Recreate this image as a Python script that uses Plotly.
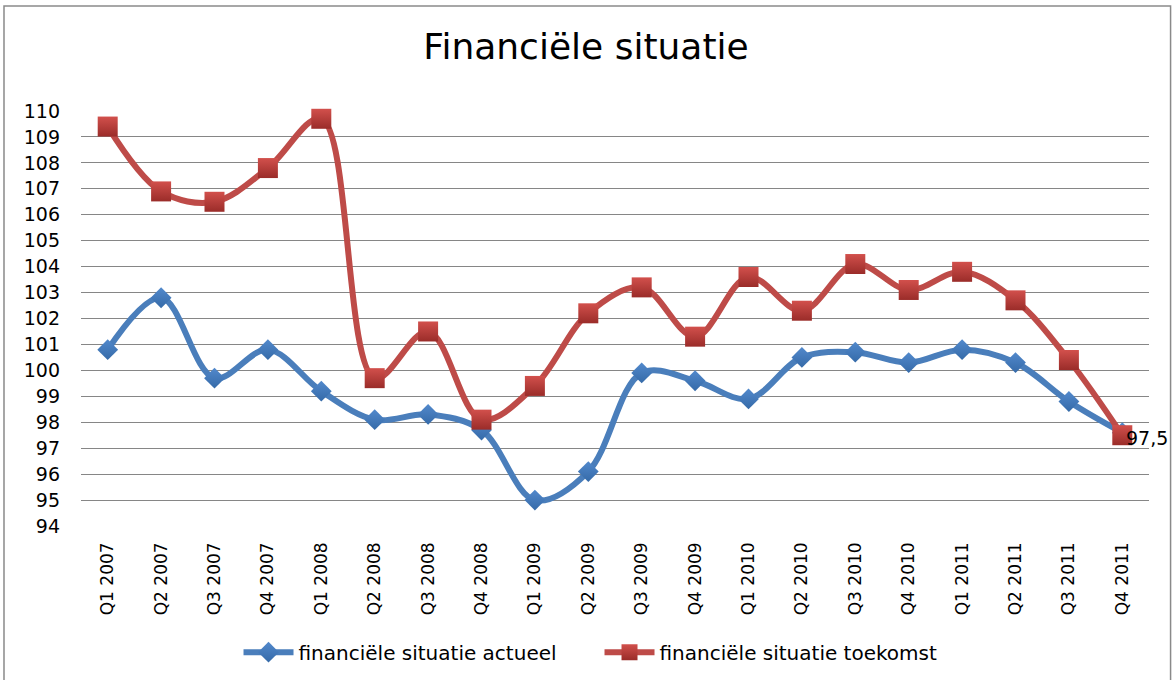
import plotly.graph_objects as go

categories = ["Q1 2007", "Q2 2007", "Q3 2007", "Q4 2007",
              "Q1 2008", "Q2 2008", "Q3 2008", "Q4 2008",
              "Q1 2009", "Q2 2009", "Q3 2009", "Q4 2009",
              "Q1 2010", "Q2 2010", "Q3 2010", "Q4 2010",
              "Q1 2011", "Q2 2011", "Q3 2011", "Q4 2011"]
actueel = [100.8, 102.8, 99.7, 100.8, 99.2, 98.1, 98.3, 97.7, 95.0, 96.1,
           99.9, 99.6, 98.9, 100.5, 100.7, 100.3, 100.8, 100.3, 98.8, 97.6]
toekomst = [109.4, 106.9, 106.5, 107.8, 109.7, 99.7, 101.5, 98.1, 99.4, 102.2,
            103.2, 101.3, 103.6, 102.3, 104.1, 103.1, 103.8, 102.7, 100.4, 97.5]
y_ticks = list(range(94, 111))
label_text = "97,5"

FONT = "DejaVu Sans"

fig = go.Figure()
fig.add_trace(go.Scatter(
    x=categories, y=actueel, name="financiële situatie actueel",
    mode="lines+markers",
    line=dict(color="#4A7EBB", width=6, shape="spline", smoothing=1),
    marker=dict(symbol="diamond", size=16, color="#5289CC",
                gradient=dict(type="vertical", color="#356AA8"),
                line=dict(width=0)),
    cliponaxis=False,
))
fig.add_trace(go.Scatter(
    x=categories, y=toekomst, name="financiële situatie toekomst",
    mode="lines+markers",
    line=dict(color="#BE4B48", width=6, shape="spline", smoothing=1),
    marker=dict(symbol="square", size=20, color="#D2504C",
                gradient=dict(type="vertical", color="#9A2C29"),
                line=dict(width=0)),
    cliponaxis=False,
))

fig.add_annotation(x=categories[-1], y=toekomst[-1], text=label_text,
                   showarrow=False, xanchor="left", yanchor="middle",
                   xshift=2, yshift=-3,
                   font=dict(family=FONT, size=19, color="#000000"))

fig.add_shape(type="rect", xref="paper", yref="paper",
              x0=-0.0721, x1=1.0202, y0=-0.45, y1=1.253,
              line=dict(color="#8a8a8a", width=1.5), fillcolor="rgba(0,0,0,0)",
              layer="below")

fig.update_layout(
    width=1172, height=680,
    margin=dict(l=81, r=23, t=111, b=154, autoexpand=False),
    paper_bgcolor="white", plot_bgcolor="white",
    title=dict(text="Financiële situatie", x=0.5, xanchor="center",
               y=1 - 46 / 680, yanchor="middle",
               font=dict(family=FONT, size=36, color="#000000")),
    showlegend=True,
    legend=dict(orientation="h", x=0.4855, xanchor="center",
                y=-0.304, yanchor="middle",
                font=dict(family=FONT, size=20, color="#000000"),
                itemwidth=50, entrywidth=296, entrywidthmode="pixels"),
    xaxis=dict(type="category", range=[-0.5, 19.5], showgrid=False,
               showline=False, zeroline=False, tickangle=-90,
               ticks="", ticklabelstandoff=12, automargin=False,
               tickfont=dict(family=FONT, size=17, color="#000000")),
    yaxis=dict(range=[94, 110], tickvals=y_ticks, showgrid=True,
               gridcolor="#868686", gridwidth=1.3, zeroline=False,
               showline=False, ticks="", ticklabelstandoff=20, automargin=False,
               tickfont=dict(family=FONT, size=19, color="#000000")),
)

fig.write_html("out.html", config={"displayModeBar": False},
               post_script="document.body.style.margin='0';document.body.style.overflow='hidden';")
